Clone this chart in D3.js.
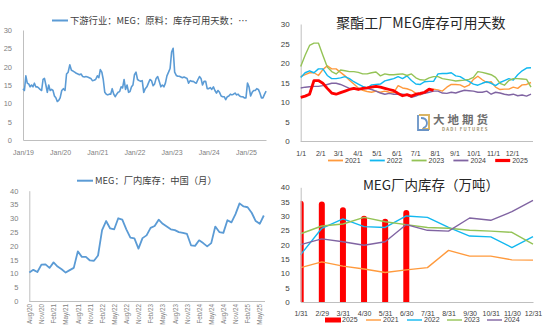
<!DOCTYPE html>
<html>
<head>
<meta charset="utf-8">
<script src="https://cdn.jsdelivr.net/npm/d3@7"></script>
<style>
    body { margin: 0; background: #fff; }
    svg text { font-family: "Noto Sans CJK SC", "Noto Sans", sans-serif; }
    .tick text { font-family: "Liberation Sans", "DejaVu Sans", sans-serif; }
</style>
</head>
<body>
<div id="chart"></div>
<script>
// ---- panel 1: downstream MEG raw material usable days (half-monthly, one array per year)
const p1Years = [2019, 2020, 2021, 2022, 2023, 2024, 2025]
const vals2019 = [14, 13.5, 17.5, 15.5, 15.3, 14.5, 15, 14.5, 15.5, 14.5, 14.5, 14.2, 13.8, 13.5, 16.5, 16.8, 15, 13, 15, 13.5, 13.8, 13.5, 12, 11.5, 10.5, 10.8]
const vals2020 = [11.5, 13.5, 14, 13.5, 18, 18.5, 20.5, 19, 18.8, 18.5, 18.2, 18, 17.8, 18, 17.3, 17.2, 17.3, 17.2, 17, 16.8, 16.2, 16.3, 16.5]
const vals2021 = [17.5, 17, 19.2, 18.5, 16.5, 13, 12.5, 12.3, 12.5, 12.5, 14, 12.5, 11.8, 12.5, 13, 13.2, 14.5, 14.2, 16.5, 13.8, 15, 13, 13.2, 14.5, 15]
const vals2022 = [17.8, 18.5, 16.5, 16.2, 16, 16.2, 13, 14, 14.5, 15.5, 16.5, 16.2, 14.8, 15.3, 16.8, 17.3, 16, 14.5, 15, 14.5, 15.5, 17.5, 18.5, 19.5]
const vals2023 = [24, 25, 18.5, 17.6, 17.4, 17.4, 17.2, 17, 17.2, 17, 16.8, 15.5, 16.2, 16, 16, 15.7, 15.5, 16.5, 17.3, 16.8, 15, 16, 16, 14]
const vals2024 = [14, 14.3, 13.8, 14.5, 13.5, 12.8, 13.5, 13, 12, 11.8, 11.8, 11, 11.8, 12, 12.5, 12.3, 12.5, 12.8, 12.3, 12.5, 12, 11.8, 11.8, 11.5]
const vals2025 = [11.5, 15.5, 14.5, 12, 13, 13.5, 13.5, 14, 13.8, 12.8, 11.5, 11.5, 12.5, 13.3]
const p1Vals = [vals2019, vals2020, vals2021, vals2022, vals2023, vals2024, vals2025]

// ---- panel 2: polyester plant MEG usable days, weekly
const weekly2021 = [16.5, 17, 17.5, 17.5, 16.8, 18.3, 19.3, 18.5, 18.5, 17.6, 16.7, 15.6, 14.6, 13.6, 13, 12.7, 12.5, 12.8, 12.5, 12.8, 12.5, 12.4, 14.2, 13.6, 13.4, 13, 12.2, 11.8, 12.4, 13, 13.3, 13.1, 12.8, 13.8, 14.5, 14.5, 14.4, 13.8, 14.3, 15.8, 16.6, 15.7, 15, 15.2, 13.8, 13.2, 13.3, 13.3, 13.8, 13.5, 14.4, 14.5, 15]
const weekly2022 = [16.3, 17.5, 18, 17.5, 18.5, 18.5, 16.8, 16, 16, 16.2, 16.5, 16, 15.2, 14.6, 14, 13.6, 14.4, 14.5, 14.6, 15.4, 15.7, 16, 16.5, 16, 16.7, 15.5, 14.6, 14.5, 15.2, 15.3, 15.3, 17.2, 17.3, 17.3, 17.5, 16.7, 16.5, 15.8, 15.3, 14.6, 14.3, 14.8, 15.2, 14.8, 14.2, 15, 15.5, 16, 15.6, 17, 18, 18.7, 18.8]
const weekly2023 = [19.1, 22, 24.5, 25.1, 25.1, 22, 19, 17.8, 17.2, 18.2, 18, 17.8, 17.8, 17.6, 17.2, 17.2, 17.5, 17.7, 16.7, 17.2, 17, 17, 17.1, 17.2, 16.8, 17.2, 16.2, 15.7, 15.6, 16.2, 16.5, 16.5, 16, 15.8, 15.6, 15.4, 15.5, 15.6, 15.8, 16.3, 17.8, 17.6, 17.3, 17, 16.3, 14.8, 14.3, 15.5, 16, 16, 15.9, 15.8, 13.8]
const weekly2024 = [13.6, 13.8, 13.9, 14, 14, 14.2, 14.5, 14.8, 14.8, 14.5, 14, 13.5, 13.5, 13.5, 13.4, 13.5, 13.2, 12.8, 12.3, 12, 12.2, 12, 12, 12, 11.8, 11.2, 11.5, 12, 12.2, 12.5, 12.8, 12.8, 12.3, 12.2, 12.5, 12.3, 12.7, 13, 12.9, 12.8, 12.5, 12.5, 12.8, 12, 12.5, 12.3, 12, 11.8, 12, 11.6, 11.8, 11.5, 12]
const weekly2025 = [11.2, 11.5, 12, 15.5, 15.5, 14.8, 13.5, 12.3, 12, 12.4, 12.8, 13.2, 13.5, 13.2, 13.5, 13.6, 13.8, 14, 13.8, 13.5, 13.2, 12.9, 12.2, 11.6, 11.9, 11.5, 12, 12.2, 12.5, 13.3, 13]
const monthStartDays = [0, 31, 59, 90, 120, 151, 181, 212, 243, 273, 304, 334]
const monthStartLabels = ['1/1', '2/1', '3/1', '4/1', '5/1', '6/1', '7/1', '8/1', '9/1', '10/1', '11/1', '12/1']

// ---- panel 3: MEG plant inventory, China, monthly Aug/20 .. Jun/25
const monthlyStock = [10.3, 11.3, 10.5, 13.2, 13.3, 12, 14, 12.5, 11.5, 10.3, 11.2, 12, 18, 16, 16, 14.7, 14.6, 16.5, 25.7, 29, 26.3, 26, 30, 29.5, 26, 23, 22.7, 19, 22.8, 23.8, 26.5, 27.2, 29.5, 28, 27, 26, 25.7, 25, 24.7, 24.3, 20.2, 20, 22, 21, 19.8, 21, 27, 25, 24.7, 29.3, 28.5, 31.5, 35.4, 34.3, 34, 32, 29, 28, 31]
const p3TickLabels = ['Aug/20', 'Nov/20', 'Feb/21', 'May/21', 'Aug/21', 'Nov/21', 'Feb/22', 'May/22', 'Aug/22', 'Nov/22', 'Feb/23', 'May/23', 'Aug/23', 'Nov/23', 'Feb/24', 'May/24', 'Aug/24', 'Nov/24', 'Feb/25', 'May/25']

// ---- panel 4: same inventory by year, month-end categories
const monthEnds = ['1/31', '2/29', '3/31', '4/30', '5/31', '6/30', '7/31', '8/31', '9/30', '10/31', '11/30', '12/31']
const stock2021 = monthlyStock.slice(5, 17)
const stock2022 = monthlyStock.slice(17, 29)
const stock2023 = monthlyStock.slice(29, 41)
const stock2024 = monthlyStock.slice(41, 53)
const stock2025 = monthlyStock.slice(53, 59)

const colors = { y2021: '#ff9a3d', y2022: '#12b8f0', y2023: '#94c356', y2024: '#8064a2', y2025: '#ff0000', blue: '#5b9bd5' }

const w = 550
const h = 330
const svg = d3.select('#chart').append('svg').attr('width', w).attr('height', h)

const styleAxis = (g, color, size) => {
    g.select('.domain').attr('stroke', '#bfbfbf')
    g.selectAll('.tick line').remove()
    g.selectAll('.tick text').attr('fill', color).style('font-size', size + 'px')
}

// =============== panel 1 ===============
const x1 = d3.scaleTime().domain([new Date(2019, 0, 1), new Date(2025, 6, 17)]).range([23, 266])
const y1 = d3.scaleLinear().domain([0, 30]).range([140, 30])

const p1Points = p1Years.flatMap((yr, k) => {
    const vals = p1Vals[k]
    const n = yr === 2025 ? 24 : vals.length
    return vals.map((v, i) => ({ date: new Date(yr, 0, 1 + Math.round(i * 365 / n)), v: v }))
})

const g1 = svg.append('g')
g1.append('g').attr('transform', 'translate(0,140)')
    .call(d3.axisBottom(x1).ticks(d3.timeYear.every(1)).tickFormat(d3.timeFormat('%b/%y')).tickSizeOuter(0).tickPadding(4))
    .call(g => styleAxis(g, '#7f7f7f', 7))
g1.append('g').attr('transform', 'translate(23,0)')
    .call(d3.axisLeft(y1).tickValues(d3.range(0, 31, 5)).tickSizeOuter(0).tickPadding(5))
    .call(g => styleAxis(g, '#7f7f7f', 7.5))
g1.append('path').datum(p1Points)
    .attr('fill', 'none').attr('stroke', colors.blue).attr('stroke-width', 1.6).attr('stroke-linejoin', 'round')
    .attr('d', d3.line().x(d => x1(d.date)).y(d => y1(d.v)))
g1.append('line').attr('x1', 52).attr('x2', 68).attr('y1', 20.5).attr('y2', 20.5)
    .attr('stroke', colors.blue).attr('stroke-width', 2)
g1.append('text').attr('x', 70).attr('y', 20.5).attr('dy', '0.35em')
    .style('font-size', '9.3px').attr('fill', '#404040')
    .text('下游行业：MEG：原料：库存可用天数：…')

// =============== panel 2 ===============
const x2 = d3.scaleLinear().domain([0, 364]).range([300.7, 531])
const y2 = d3.scaleLinear().domain([0, 30]).range([141, 24])
const g2 = svg.append('g')

// watermark logo
const logo = g2.append('g').attr('opacity', 0.85)
logo.append('path').attr('d', 'M419,115 h10 v14 h-7').attr('fill', 'none').attr('stroke', '#d4a94a').attr('stroke-width', 2)
logo.append('path').attr('d', 'M418,115 v15 h11 M421,118 c7,0 8,8 2,10').attr('fill', 'none').attr('stroke', '#4f81bd').attr('stroke-width', 1.8)
logo.append('text').attr('x', 433).attr('y', 123.5).style('font-size', '11.5px').style('font-weight', 'bold')
    .style('letter-spacing', '3px').attr('fill', '#555').text('大地期货')
logo.append('text').attr('x', 442).attr('y', 131).style('font-size', '4.3px').style('font-weight', 'bold')
    .style('letter-spacing', '1.3px').attr('fill', '#8b7b52').text('DADI FUTURES')

g2.append('g').attr('transform', 'translate(0,141)')
    .call(d3.axisBottom(x2).tickValues(monthStartDays).tickFormat((d, i) => monthStartLabels[i]).tickSizeOuter(0).tickPadding(4))
    .call(g => styleAxis(g, '#404040', 7))
g2.select('.domain').attr('d', 'M300.7,0.5H533')
g2.append('g').attr('transform', 'translate(300.7,0)')
    .call(d3.axisLeft(y2).tickValues(d3.range(0, 31, 5)).tickSizeOuter(0).tickPadding(5))
    .call(g => styleAxis(g, '#404040', 8))

const line2 = d3.line().x((d, i) => x2(i * 7)).y(d => y2(d))
const p2Series = [
    { name: '2021', vals: weekly2021, color: colors.y2021, width: 1.4 },
    { name: '2022', vals: weekly2022, color: colors.y2022, width: 1.4 },
    { name: '2023', vals: weekly2023, color: colors.y2023, width: 1.4 },
    { name: '2024', vals: weekly2024, color: colors.y2024, width: 1.4 },
    { name: '2025', vals: weekly2025, color: colors.y2025, width: 2.8 }
]
p2Series.forEach(s => {
    g2.append('path').datum(s.vals)
        .attr('fill', 'none').attr('stroke', s.color).attr('stroke-width', s.width).attr('stroke-linejoin', 'round')
        .attr('d', line2)
})
g2.append('text').attr('x', 421).attr('y', 23).attr('dy', '0.35em').attr('text-anchor', 'middle')
    .style('font-size', '14px').attr('fill', '#262626').text('聚酯工厂MEG库存可用天数')

const leg2 = g2.append('g').selectAll('g').data(p2Series).enter().append('g')
    .attr('transform', (d, i) => 'translate(' + (328 + i * 41.8) + ',160.5)')
leg2.append('line').attr('x1', 0).attr('x2', 15).attr('stroke', d => d.color).attr('stroke-width', d => d.width + 0.4)
leg2.append('text').attr('x', 17).attr('dy', '0.35em').style('font-size', '7px')
    .style('font-family', '"Liberation Sans", sans-serif').attr('fill', '#404040').text(d => d.name)

// =============== panel 3 ===============
const x3 = d3.scaleLinear().domain([0, 58]).range([29.3, 263.8])
const y3 = d3.scaleLinear().domain([0, 40]).range([301, 190.7])
const g3 = svg.append('g')
g3.append('g').attr('transform', 'translate(0,301)')
    .call(d3.axisBottom(x3).tickValues(d3.range(0, 58, 3)).tickFormat((d, i) => p3TickLabels[i]).tickSizeOuter(0))
    .call(g => styleAxis(g, '#7f7f7f', 6.3))
    .call(g => g.selectAll('.tick text').attr('text-anchor', 'end').attr('transform', 'translate(0,3) rotate(-90)')
        .attr('x', 0).attr('y', 0).attr('dy', '0.35em'))
g3.select('.domain').attr('d', 'M29.3,0.5H265')
g3.append('g').attr('transform', 'translate(29.3,0)')
    .call(d3.axisLeft(y3).tickValues(d3.range(0, 41, 5)).tickSizeOuter(0).tickPadding(5))
    .call(g => styleAxis(g, '#7f7f7f', 7.5))
g3.append('path').datum(monthlyStock)
    .attr('fill', 'none').attr('stroke', colors.blue).attr('stroke-width', 1.8).attr('stroke-linejoin', 'round')
    .attr('d', d3.line().x((d, i) => x3(i)).y(d => y3(d)))
g3.append('line').attr('x1', 77).attr('x2', 93).attr('y1', 180.7).attr('y2', 180.7)
    .attr('stroke', colors.blue).attr('stroke-width', 2)
g3.append('text').attr('x', 95).attr('y', 180.7).attr('dy', '0.35em')
    .style('font-size', '9.3px').attr('fill', '#404040').text('MEG：厂内库存：中国（月）')

// =============== panel 4 ===============
const x4 = d3.scaleLinear().domain([0, 11]).range([300.7, 533])
const y4 = d3.scaleLinear().domain([0, 40]).range([302, 187.3])
const g4 = svg.append('g')

svg.append('defs').append('clipPath').attr('id', 'clip4')
    .append('rect').attr('x', 300.7).attr('y', 180).attr('width', 240).attr('height', 122)

g4.append('g').attr('clip-path', 'url(#clip4)').selectAll('line').data(stock2025).enter().append('line')
    .attr('x1', (d, i) => x4(i)).attr('x2', (d, i) => x4(i))
    .attr('y1', y4(0) + 4).attr('y2', d => y4(d))
    .attr('stroke', colors.y2025).attr('stroke-width', 6).attr('stroke-linecap', 'round')

const line4 = d3.line().x((d, i) => x4(i)).y(d => y4(d))
const p4Series = [
    { name: '2021', vals: stock2021, color: colors.y2021 },
    { name: '2022', vals: stock2022, color: colors.y2022 },
    { name: '2023', vals: stock2023, color: colors.y2023 },
    { name: '2024', vals: stock2024, color: colors.y2024 }
]
p4Series.forEach(s => {
    g4.append('path').datum(s.vals)
        .attr('fill', 'none').attr('stroke', s.color).attr('stroke-width', 1.4).attr('stroke-linejoin', 'round')
        .attr('d', line4)
})

g4.append('g').attr('transform', 'translate(0,302)')
    .call(d3.axisBottom(x4).tickValues(d3.range(12)).tickFormat((d, i) => monthEnds[i]).tickSizeOuter(0).tickPadding(3))
    .call(g => styleAxis(g, '#404040', 7))
g4.append('g').attr('transform', 'translate(300.7,0)')
    .call(d3.axisLeft(y4).tickValues(d3.range(0, 41, 5)).tickSizeOuter(0).tickPadding(5))
    .call(g => styleAxis(g, '#404040', 8))

g4.append('text').attr('x', 431).attr('y', 185.5).attr('dy', '0.35em').attr('text-anchor', 'middle')
    .style('font-size', '13.5px').attr('fill', '#262626').text('MEG厂内库存（万吨）')

const leg4Items = [{ name: '2025', color: colors.y2025, bar: true }].concat(p4Series)
const leg4X = [325, 366, 407, 447, 487]
const leg4 = g4.append('g').selectAll('g').data(leg4Items).enter().append('g')
    .attr('transform', (d, i) => 'translate(' + leg4X[i] + ',320)')
leg4.append('rect').attr('x', 0).attr('y', d => d.bar ? -2.5 : -0.7).attr('width', d => d.bar ? 16 : 15)
    .attr('height', d => d.bar ? 5 : 1.4).attr('fill', d => d.color)
leg4.append('text').attr('x', 17).attr('dy', '0.35em').style('font-size', '7px')
    .style('font-family', '"Liberation Sans", sans-serif').attr('fill', '#404040').text(d => d.name)
</script>
</body>
</html>
